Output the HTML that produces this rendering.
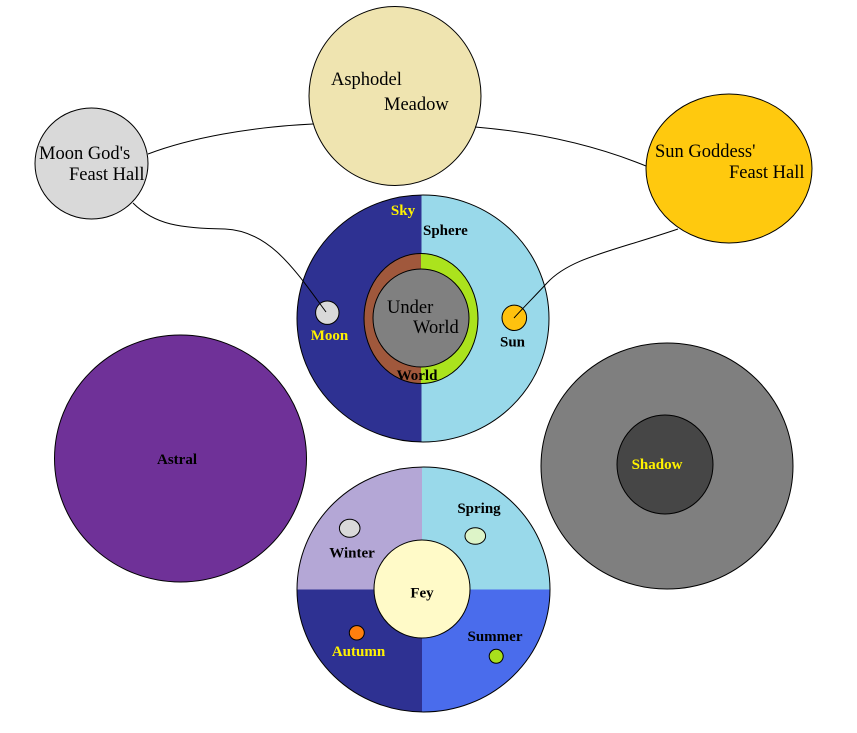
<!DOCTYPE html>
<html>
<head>
<meta charset="utf-8">
<style>
  html,body{margin:0;padding:0;background:#fff;}
  svg{display:block;}
  .r{font-family:"Liberation Serif",serif;font-size:18.5px;fill:#000;}
  .b{font-family:"Liberation Serif",serif;font-size:15px;font-weight:bold;}
</style>
</head>
<body>
<svg width="857" height="733" viewBox="0 0 857 733" xmlns="http://www.w3.org/2000/svg">
  <defs>
    <clipPath id="skyclip"><ellipse cx="423" cy="318.5" rx="126" ry="123.5"/></clipPath>
    <clipPath id="ringclip"><ellipse cx="421" cy="318.5" rx="57" ry="65"/></clipPath>
    <clipPath id="feyclip"><ellipse cx="423.5" cy="589.5" rx="126.5" ry="122.5"/></clipPath>
  </defs>

  <!-- Asphodel Meadow -->
  <ellipse cx="395" cy="96" rx="86" ry="89.5" fill="#EFE4B0" stroke="#000" stroke-width="1"/>
  <text class="r" x="331" y="85">Asphodel</text>
  <text class="r" x="384" y="110">Meadow</text>

  <!-- Moon God's Feast Hall -->
  <ellipse cx="91.5" cy="163.5" rx="56.5" ry="55.5" fill="#D9D9D9" stroke="#000" stroke-width="1"/>
  <text class="r" x="39" y="159">Moon God's</text>
  <text class="r" x="69" y="180">Feast Hall</text>

  <!-- Sun Goddess' Feast Hall -->
  <ellipse cx="729" cy="168.5" rx="83" ry="74.5" fill="#FFC90E" stroke="#000" stroke-width="1"/>
  <text class="r" x="655" y="157">Sun Goddess'</text>
  <text class="r" x="729" y="178">Feast Hall</text>

  <!-- Sky Sphere -->
  <g clip-path="url(#skyclip)">
    <rect x="290" y="190" width="131.5" height="260" fill="#2E3192"/>
    <rect x="421.5" y="190" width="140" height="260" fill="#99D9EA"/>
  </g>
  <ellipse cx="423" cy="318.5" rx="126" ry="123.5" fill="none" stroke="#000" stroke-width="1"/>

  <!-- World ring -->
  <g clip-path="url(#ringclip)">
    <rect x="360" y="250" width="61" height="140" fill="#A0583C"/>
    <rect x="421" y="250" width="61" height="140" fill="#ABE31D"/>
  </g>
  <ellipse cx="421" cy="318.5" rx="57" ry="65" fill="none" stroke="#000" stroke-width="1"/>
  <ellipse cx="421" cy="318" rx="48" ry="49" fill="#808080" stroke="#000" stroke-width="1"/>
  <text class="r" x="387" y="313">Under</text>
  <text class="r" x="413" y="333">World</text>
  <text class="b" x="417" y="380" text-anchor="middle" fill="#000">World</text>

  <!-- Moon & Sun -->
  <ellipse cx="327.3" cy="312.7" rx="11.7" ry="11.7" fill="#D9D9D9" stroke="#000" stroke-width="1"/>
  <ellipse cx="514.3" cy="317.8" rx="12.3" ry="12.7" fill="#FFC20E" stroke="#000" stroke-width="1"/>
  <text class="b" x="403" y="215" text-anchor="middle" fill="#FFF200">Sky</text>
  <text class="b" x="423" y="235" fill="#000">Sphere</text>
  <text class="b" x="329.5" y="340" text-anchor="middle" fill="#FFF200">Moon</text>
  <text class="b" x="512.5" y="346.5" text-anchor="middle" fill="#000">Sun</text>

  <!-- Astral -->
  <ellipse cx="180.5" cy="458.5" rx="126" ry="123.5" fill="#6F3198" stroke="#000" stroke-width="1"/>
  <text class="b" x="177" y="464" text-anchor="middle" fill="#000">Astral</text>

  <!-- Shadow -->
  <ellipse cx="667" cy="466" rx="126" ry="123" fill="#7F7F7F" stroke="#000" stroke-width="1"/>
  <ellipse cx="665" cy="464.5" rx="48" ry="49.5" fill="#464646" stroke="#000" stroke-width="1"/>
  <text class="b" x="657" y="469" text-anchor="middle" fill="#FFF200">Shadow</text>

  <!-- Fey -->
  <g clip-path="url(#feyclip)">
    <rect x="290" y="460" width="132" height="129.5" fill="#B4A7D6"/>
    <rect x="422" y="460" width="140" height="129.5" fill="#99D9EA"/>
    <rect x="290" y="589.5" width="132" height="130" fill="#2E3192"/>
    <rect x="422" y="589.5" width="140" height="130" fill="#4A6CEC"/>
  </g>
  <ellipse cx="423.5" cy="589.5" rx="126.5" ry="122.5" fill="none" stroke="#000" stroke-width="1"/>
  <ellipse cx="422" cy="589" rx="48" ry="49" fill="#FFFAC8" stroke="#000" stroke-width="1"/>
  <ellipse cx="349.7" cy="528.3" rx="10.3" ry="9" fill="#D9D9D9" stroke="#000" stroke-width="1"/>
  <ellipse cx="475.3" cy="536" rx="10.3" ry="8.3" fill="#DDF4C8" stroke="#000" stroke-width="1"/>
  <ellipse cx="356.8" cy="632.8" rx="7.5" ry="7.2" fill="#FF7F0E" stroke="#000" stroke-width="1"/>
  <ellipse cx="496.2" cy="656.3" rx="7" ry="7" fill="#A8E01C" stroke="#000" stroke-width="1"/>
  <text class="b" x="479" y="513" text-anchor="middle" fill="#000">Spring</text>
  <text class="b" x="352" y="557.5" text-anchor="middle" fill="#000">Winter</text>
  <text class="b" x="422" y="597.5" text-anchor="middle" fill="#000">Fey</text>
  <text class="b" x="495" y="641" text-anchor="middle" fill="#000">Summer</text>
  <text class="b" x="358.5" y="656" text-anchor="middle" fill="#FFF200">Autumn</text>

  <!-- Connectors -->
  <g fill="none" stroke="#000" stroke-width="1">
    <path d="M148,154 C190,138 250,127 313,124"/>
    <path d="M133,203 C155,225 180,228 225,229 C270,231 295,270 326,312"/>
    <path d="M475,127 Q570,135 646,166"/>
    <path d="M678,229 C610,252 570,258 547,283 C535,296 524,307 514,318"/>
  </g>
</svg>
</body>
</html>
